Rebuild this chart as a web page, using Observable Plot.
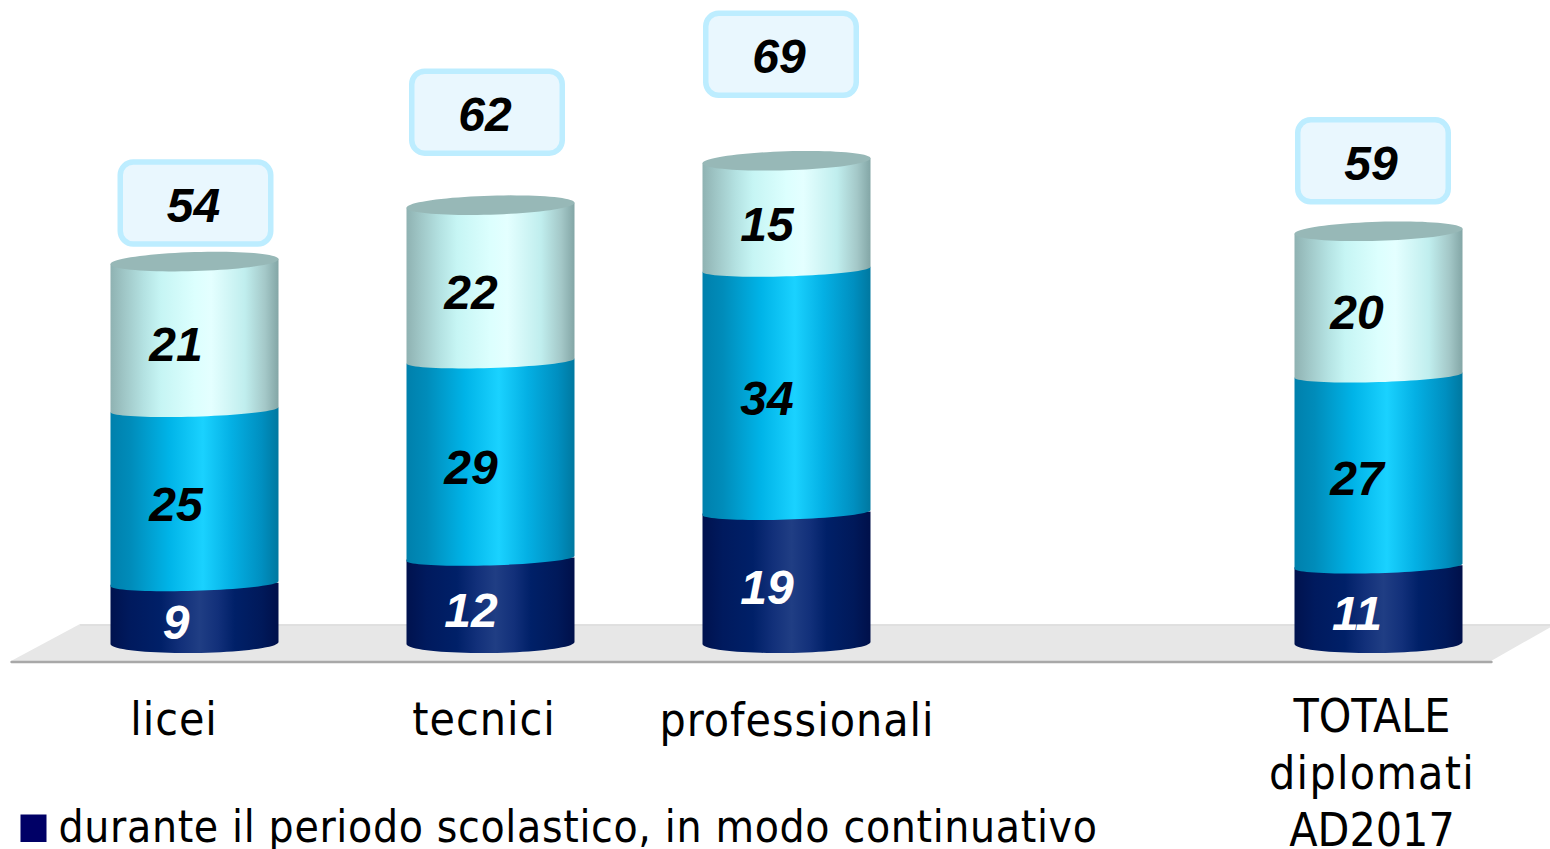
<!DOCTYPE html>
<html lang="it">
<head>
<meta charset="utf-8">
<style>
html,body{margin:0;padding:0;background:#fff;overflow:hidden}
svg{display:block}
</style>
<script src="https://cdn.jsdelivr.net/npm/d3@7"></script>
<script src="https://cdn.jsdelivr.net/npm/@observablehq/plot@0.6"></script>
</head>
<body>
<script>
const categories = ["licei", "tecnici", "professionali", "TOTALE\ndiplomati\nAD2017"];
const slots = [0, 1, 2, 4];
const totals = [54, 62, 69, 59];
const labelsContinuativo = [9, 12, 19, 11];
const labelsMedio = [25, 29, 34, 27];
const labelsAlto = [21, 22, 15, 20];
// Heights (the printed labels are rounded)
const heightsContinuativo = [8.4, 12.0, 18.5, 10.9];
const heightsMedio = [24.7, 28.0, 34.5, 27.1];
const heightsAlto = [21.0, 22.1, 15.4, 20.4];
const boxLevels = [62.4, 75.3, 83.5, 68.4];
const legendLabel = "durante il periodo scolastico, in modo continuativo";

const W = 1550, H = 849;
const pxPerSlot = 296, pxPerUnit = 7.05, x0Px = 194.5, y0Px = 643;
const xU = px => (px - x0Px) / pxPerSlot;
const yU = py => (y0Px - py) / pxPerUnit;
const halfW = 84 / pxPerSlot;
const boxDx = [1, -3.5, -5.5, -5.5];
const labelDxs = [-19, -20, -20, -22];
const catDx = [-21, -7, 10, -7];
const catTop = [694, 694, 695, 691];

const ts = d3.range(0, 41).map(i => Math.PI * (1 - i / 40));
const tilt = 2.5 / pxPerUnit;
function band(base, top, bulgePx, tiltU = tilt) {
  const b = bulgePx / pxPerUnit, out = [];
  slots.forEach((s, k) => {
    ts.forEach(t => out.push({
      k, x: s + halfW * Math.cos(t),
      y1: base[k] - b * Math.sin(t) + tiltU * Math.cos(t),
      y2: top[k] + tiltU * Math.cos(t)
    }));
  });
  return out;
}
const level1 = heightsContinuativo;
const level2 = level1.map((v, i) => v + heightsMedio[i]);
const level3 = level2.map((v, i) => v + heightsAlto[i]);
const zeros = slots.map(() => 0);

const capB = 9.5 / pxPerUnit;
const capData = slots.flatMap((s, k) => ts.map(t => ({
  k, x: s + halfW * Math.cos(t),
  y1: level3[k] - capB * Math.sin(t) + tilt * Math.cos(t),
  y2: level3[k] + capB * Math.sin(t) + tilt * Math.cos(t)
})));

function gradient(id, stops) {
  return `<linearGradient id="${id}" x1="0" x2="1" y1="0" y2="0">` +
    stops.map(([o, c]) => `<stop offset="${o}" stop-color="${c}"/>`).join("") + `</linearGradient>`;
}
const defsMark = () => {
  const g = document.createElementNS("http://www.w3.org/2000/svg", "defs");
  g.innerHTML =
    gradient("gDark", [[0,"#00124e"],[0.12,"#001a5e"],[0.3,"#002068"],[0.42,"#12307a"],[0.53,"#203e84"],[0.64,"#12307a"],[0.74,"#002068"],[0.9,"#00195a"],[1,"#00104a"]]) +
    gradient("gMid", [[0,"#0080ac"],[0.12,"#008cba"],[0.35,"#00b4e8"],[0.55,"#1ad2ff"],[0.72,"#04b0e4"],[0.9,"#008fc0"],[1,"#0078a0"]]) +
    gradient("gLight", [[0,"#8fb2b2"],[0.08,"#9fc6c6"],[0.2,"#b4e2e2"],[0.3,"#c6f5f4"],[0.5,"#dcfffe"],[0.6,"#e4ffff"],[0.8,"#c0eeee"],[0.92,"#a4c8c8"],[1,"#83a6a6"]]);
  return g;
};

const num = {fontFamily: "Liberation Sans", fontWeight: "bold", fontStyle: "italic", fontSize: 48};
const cat = {fontFamily: "DejaVu Sans Condensed", fontSize: 46, fill: "#000"};
const rows = slots.map((s, i) => ({i, s}));
const labelX = d => d.s + labelDxs[d.i] / pxPerSlot;

const chart = Plot.plot({
  width: W, height: H,
  marginTop: 0, marginRight: 0, marginBottom: 0, marginLeft: 0,
  x: {type: "linear", domain: [xU(0), xU(W)], range: [0, W], axis: null},
  y: {type: "linear", domain: [yU(H), yU(0)], range: [H, 0], axis: null},
  style: {background: "#fff"},
  marks: [
    defsMark,
    // floor
    Plot.areaX([{y: yU(661), a: xU(11), b: xU(1491)}, {y: yU(624), a: xU(80), b: xU(1556)}],
      {y: "y", x1: "a", x2: "b", fill: "#e7e7e7"}),
    Plot.line([{x: xU(80), y: yU(624.5)}, {x: xU(1556), y: yU(624.5)}], {x: "x", y: "y", stroke: "#d8d8d8", strokeWidth: 1}),
    Plot.line([{x: xU(11), y: yU(661.5)}, {x: xU(1491), y: yU(661.5)}], {x: "x", y: "y", stroke: "#a8a8a8", strokeWidth: 2.4}),
    // cylinders
    Plot.area(band(zeros, level1, 10, 1 / pxPerUnit), {x1: "x", y1: "y1", y2: "y2", z: "k", fill: "url(#gDark)"}),
    Plot.area(band(level1, level2, 7), {x1: "x", y1: "y1", y2: "y2", z: "k", fill: "url(#gMid)"}),
    Plot.area(band(level2, level3, 7), {x1: "x", y1: "y1", y2: "y2", z: "k", fill: "url(#gLight)"}),
    Plot.area(capData, {x1: "x", y1: "y1", y2: "y2", z: "k", fill: "#97b8b7"}),
    // segment labels
    Plot.text(rows, {x: labelX, y: d => level1[d.i] / 2, text: d => labelsContinuativo[d.i], dy: 10, fill: "#fff", ...num}),
    Plot.text(rows, {x: labelX, y: d => (level1[d.i] + level2[d.i]) / 2, text: d => labelsMedio[d.i], dy: 8, fill: "#000", ...num}),
    Plot.text(rows, {x: labelX, y: d => (level2[d.i] + level3[d.i]) / 2, text: d => labelsAlto[d.i], dy: 10, fill: "#000", ...num}),
    // total boxes
    Plot.rect(rows, {
      x1: d => d.s + (boxDx[d.i] - 75.25) / pxPerSlot, x2: d => d.s + (boxDx[d.i] + 75.25) / pxPerSlot,
      y1: d => boxLevels[d.i] - 41 / pxPerUnit, y2: d => boxLevels[d.i] + 41 / pxPerUnit,
      fill: "#e9f7fe", stroke: "#bdedff", strokeWidth: 5.5, rx: 13
    }),
    Plot.text(rows, {x: d => d.s + (boxDx[d.i] - 2.5) / pxPerSlot, y: d => boxLevels[d.i], text: d => totals[d.i], dy: 3, fill: "#000", ...num}),
    // category labels
    Plot.text(rows, {x: d => d.s + catDx[d.i] / pxPerSlot, y: d => yU(catTop[d.i]), text: d => categories[d.i],
      lineAnchor: "top", lineHeight: 1.24, ...cat}),
    // legend
    Plot.rect([0], {x1: xU(20.5), x2: xU(46.5), y1: yU(842), y2: yU(814.5), fill: "#000066"}),
    Plot.text([legendLabel], {x: xU(58), y: yU(827), text: d => d, textAnchor: "start", lineAnchor: "middle", ...cat, fontSize: 44})
  ]
});
// Glyph spacing of the reference's wider typeface
d3.select(chart).selectAll("text").each(function () {
  const t = this.textContent;
  if (t === legendLabel) this.style.letterSpacing = "0.66px";
  else if (categories.slice(0, 3).includes(t)) this.style.letterSpacing = "1.0px";
  else if (t.startsWith("TOTALE")) this.querySelectorAll("tspan")[1].style.letterSpacing = "1.3px";
});
document.body.appendChild(chart);
</script>
</body>
</html>
